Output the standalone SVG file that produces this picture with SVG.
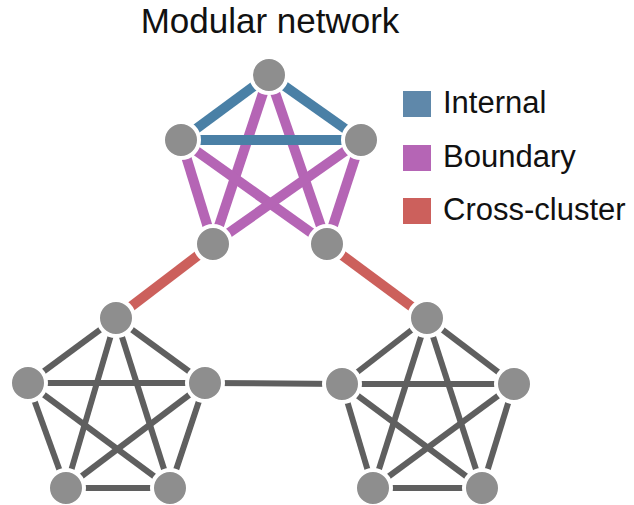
<svg xmlns="http://www.w3.org/2000/svg" width="634" height="505" viewBox="0 0 634 505">
<style>
.t{font-family:"Liberation Sans",Arial,sans-serif;fill:#111}
.int{stroke:#4a80a6;stroke-width:10}
.bnd{stroke:#b565b5;stroke-width:10}
.crs{stroke:#cc605c;stroke-width:10}
.gr{stroke:#5f5f5f;stroke-width:6}
.n{fill:#8e8e8e;stroke:#fff;stroke-width:4}
</style>
<rect width="634" height="505" fill="#fff"/>
<text class="t" x="270" y="33" font-size="35" text-anchor="middle">Modular network</text>
<g id="connectors">
<line class="bnd" x1="269" y1="75" x2="213" y2="244"/>
<line class="bnd" x1="269" y1="75" x2="327" y2="244"/>
<line class="bnd" x1="181" y1="140" x2="213" y2="244"/>
<line class="bnd" x1="181" y1="140" x2="327" y2="244"/>
<line class="bnd" x1="361" y1="140" x2="213" y2="244"/>
<line class="bnd" x1="361" y1="140" x2="327" y2="244"/>
<line class="int" x1="269" y1="75" x2="181" y2="140"/>
<line class="int" x1="269" y1="75" x2="361" y2="140"/>
<line class="int" x1="181" y1="140" x2="361" y2="140"/>
<line class="crs" x1="213" y1="244" x2="116" y2="318"/>
<line class="crs" x1="327" y1="244" x2="427" y2="318"/>
<line class="gr" x1="205" y1="383" x2="342" y2="384"/>
<line class="gr" x1="116" y1="318" x2="28" y2="383"/>
<line class="gr" x1="116" y1="318" x2="205" y2="383"/>
<line class="gr" x1="116" y1="318" x2="66" y2="488"/>
<line class="gr" x1="116" y1="318" x2="170" y2="488"/>
<line class="gr" x1="28" y1="383" x2="205" y2="383"/>
<line class="gr" x1="28" y1="383" x2="66" y2="488"/>
<line class="gr" x1="28" y1="383" x2="170" y2="488"/>
<line class="gr" x1="205" y1="383" x2="66" y2="488"/>
<line class="gr" x1="205" y1="383" x2="170" y2="488"/>
<line class="gr" x1="66" y1="488" x2="170" y2="488"/>
<line class="gr" x1="427" y1="318" x2="342" y2="384"/>
<line class="gr" x1="427" y1="318" x2="514" y2="384"/>
<line class="gr" x1="427" y1="318" x2="373" y2="488"/>
<line class="gr" x1="427" y1="318" x2="482" y2="488"/>
<line class="gr" x1="342" y1="384" x2="514" y2="384"/>
<line class="gr" x1="342" y1="384" x2="373" y2="488"/>
<line class="gr" x1="342" y1="384" x2="482" y2="488"/>
<line class="gr" x1="514" y1="384" x2="373" y2="488"/>
<line class="gr" x1="514" y1="384" x2="482" y2="488"/>
<line class="gr" x1="373" y1="488" x2="482" y2="488"/>
</g>
<g id="a0"><circle class="n" cx="269" cy="75" r="18"/></g>
<g id="a1"><circle class="n" cx="181" cy="140" r="18"/></g>
<g id="a2"><circle class="n" cx="361" cy="140" r="18"/></g>
<g id="a3"><circle class="n" cx="213" cy="244" r="18"/></g>
<g id="a4"><circle class="n" cx="327" cy="244" r="18"/></g>
<g id="b0"><circle class="n" cx="116" cy="318" r="18"/></g>
<g id="b1"><circle class="n" cx="28" cy="383" r="18"/></g>
<g id="b2"><circle class="n" cx="205" cy="383" r="18"/></g>
<g id="b3"><circle class="n" cx="66" cy="488" r="18"/></g>
<g id="b4"><circle class="n" cx="170" cy="488" r="18"/></g>
<g id="c0"><circle class="n" cx="427" cy="318" r="18"/></g>
<g id="c1"><circle class="n" cx="342" cy="384" r="18"/></g>
<g id="c2"><circle class="n" cx="514" cy="384" r="18"/></g>
<g id="c3"><circle class="n" cx="373" cy="488" r="18"/></g>
<g id="c4"><circle class="n" cx="482" cy="488" r="18"/></g>
<g id="legend">
<rect x="403" y="91" width="28" height="26" fill="#5f88aa"/>
<text class="t" x="443" y="113" font-size="31">Internal</text>
<rect x="403" y="145" width="28" height="26" fill="#b565b5"/>
<text class="t" x="443" y="167" font-size="31">Boundary</text>
<rect x="403" y="198" width="28" height="26" fill="#cc605c"/>
<text class="t" x="443" y="220" font-size="31">Cross-cluster</text>
</g>
</svg>
